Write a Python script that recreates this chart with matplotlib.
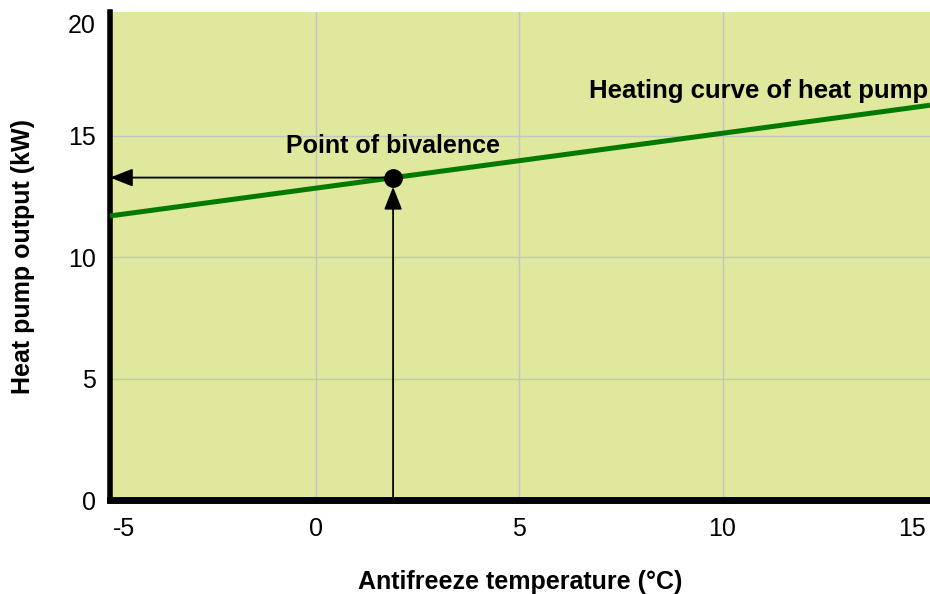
import numpy as np
import matplotlib.pyplot as plt

plt.rcParams['font.family'] = ['Liberation Sans', 'DejaVu Sans']

# heating curve of the heat pump (antifreeze temp -> output)
curve_temp = [-5.06, 15.1]
curve_output = [11.70, 16.26]

# point of bivalence
biv_temp = 1.9
biv_output = 13.28

x_ticks = [-5, 0, 5, 10, 15]
x_labels = ["-5", "0", "5", "10", "15"]
y_ticks = [0, 5, 10, 15, 20]
y_labels = ["0", "5", "10", "15", "20"]
x_min, x_max = -5.06, 15.1
y_min, y_max = 0, 20.1

fig = plt.figure(figsize=(9.3, 5.94), dpi=100)
ax = fig.add_axes([110 / 930, 94 / 594, 820 / 930, 488 / 594])
ax.set_facecolor("#dfe89d")

# grid only on the inner ticks
for xv in x_ticks[1:-1]:
    ax.axvline(xv, color="#c4c4c4", linewidth=1, zorder=1)
for yv in y_ticks[1:-1]:
    ax.axhline(yv, color="#c4c4c4", linewidth=1, zorder=1)

ax.plot(curve_temp, curve_output, color="#007a00", linewidth=3.6, solid_capstyle="butt", zorder=3)

# arrows from the point to the axes
head = "-|>,head_length=1.4,head_width=0.55"
ax.annotate("", xy=(x_min, biv_output), xytext=(biv_temp, biv_output),
            arrowprops=dict(arrowstyle=head, color="black", lw=1.3,
                            shrinkA=0, shrinkB=0), zorder=4)
ax.annotate("", xy=(biv_temp, biv_output - 0.38), xytext=(biv_temp, y_min),
            arrowprops=dict(arrowstyle=head, color="black", lw=1.3,
                            shrinkA=0, shrinkB=0), zorder=4)
ax.plot(biv_temp, biv_output, "o", color="black", markersize=12.5, zorder=5)

ax.text(biv_temp, biv_output + 1.3, "Point of bivalence", ha="center", va="center",
        fontsize=18, fontweight="bold")
ax.text(15.05, 16.85, "Heating curve of heat pump", ha="right", va="center",
        fontsize=18.5, fontweight="bold")

ax.set_xlim(x_min, x_max)
ax.set_ylim(y_min, y_max)
ax.set_xticks(x_ticks)
ax.set_xticklabels(x_labels)
ax.set_yticks(y_ticks)
ax.set_yticklabels(y_labels)
ax.tick_params(length=0, labelsize=18)
ax.tick_params(axis="x", pad=12)
ax.tick_params(axis="y", pad=10)
xl = ax.get_xticklabels()
xl[0].set_ha("left")
xl[-1].set_ha("right")
yl = ax.get_yticklabels()
yl[-1].set_va("top")

for s in ["top", "right"]:
    ax.spines[s].set_visible(False)
ax.spines["left"].set_linewidth(4)
ax.spines["bottom"].set_linewidth(5)

ax.set_xlabel("Antifreeze temperature (°C)", fontsize=18, fontweight="bold", labelpad=21)
ax.set_ylabel("Heat pump output (kW)", fontsize=18, fontweight="bold", labelpad=24)

fig.savefig("out.png", dpi=100)
